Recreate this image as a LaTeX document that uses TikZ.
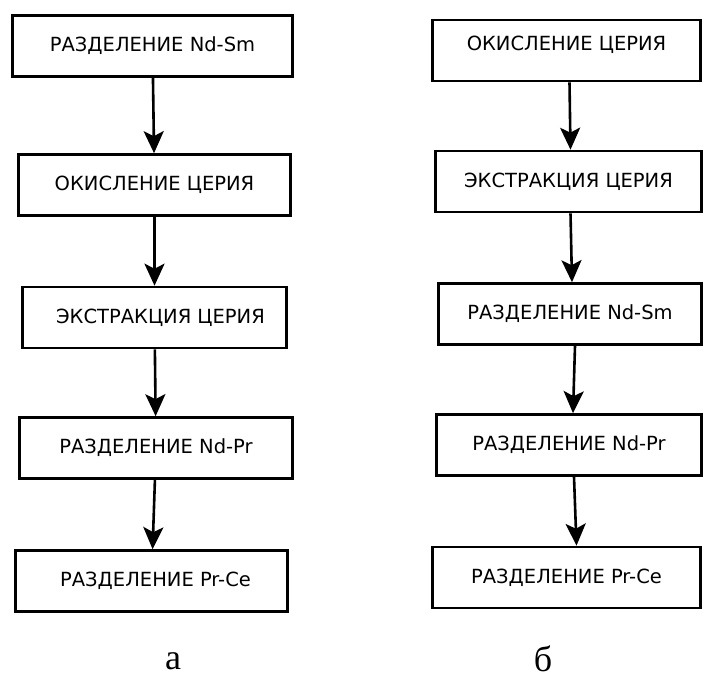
\documentclass[tikz,border=0pt]{standalone}
\usepackage{fontspec}
\setmainfont{Liberation Serif}
\newfontfamily\boitefont{DejaVu Sans}
\usetikzlibrary{arrows.meta}

\begin{document}
\begin{tikzpicture}[
    x=1pt, y=-1pt,
    etape/.style = {draw, line width=2.6pt, inner sep=0pt, minimum height=61pt,
                    font=\boitefont\fontsize{19.5}{22}\selectfont},
    fleche/.style = {line width=2.6pt, -{Stealth[length=22pt, width=20pt, inset=5pt]}},
    lettre/.style = {font=\fontsize{36}{40}\selectfont}
]
    \useasboundingbox (0,0) rectangle (704,679);

    % --- Schema (a) ---
    \node[etape, minimum width=280pt, line width=3.4pt] (A1) at (152.5,46) {РАЗДЕЛЕНИЕ Nd-Sm};
    \node[etape, minimum width=272pt] (A2) at (154.5,185) {ОКИСЛЕНИЕ ЦЕРИЯ};
    \node[etape, minimum width=264pt] (A3) at (154.5,317.5) {\hspace{12pt}ЭКСТРАКЦИЯ ЦЕРИЯ};
    \node[etape, minimum width=273pt] (A4) at (156,448) {РАЗДЕЛЕНИЕ Nd-Pr};
    \node[etape, minimum width=272pt] (A5) at (151.5,581) {\hspace{8pt}РАЗДЕЛЕНИЕ Pr-Ce};

    \draw[fleche] (A1) -- (A2);
    \draw[fleche] (A2) -- (A3);
    \draw[fleche] (A3) -- (A4);
    \draw[fleche] (A4) -- (A5);

    \node[lettre] (la) at (173,661) {а};

    % --- Schema (b) ---
    \node[etape, minimum width=268pt] (B1) at (566.5,50.5) {\raisebox{14pt}{ОКИСЛЕНИЕ ЦЕРИЯ}};
    \node[etape, minimum width=266pt] (B2) at (568.5,181.5) {ЭКСТРАКЦИЯ ЦЕРИЯ};
    \node[etape, minimum width=263pt] (B3) at (570,314) {РАЗДЕЛЕНИЕ Nd-Sm};
    \node[etape, minimum width=265pt] (B4) at (569,445) {РАЗДЕЛЕНИЕ Nd-Pr};
    \node[etape, minimum width=268pt] (B5) at (566.5,577.5) {РАЗДЕЛЕНИЕ Pr-Ce};

    \draw[fleche] ([xshift=3pt]B1.south) -- ([xshift=2pt]B2.north);
    \draw[fleche] ([xshift=2pt]B2.south) -- ([xshift=2pt]B3.north);
    \draw[fleche] ([xshift=5pt]B3.south) -- ([xshift=4pt]B4.north);
    \draw[fleche] ([xshift=5pt]B4.south) -- ([xshift=10pt]B5.north);

    \node[lettre] (lb) at (543,659) {б};

\end{tikzpicture}
\end{document}
